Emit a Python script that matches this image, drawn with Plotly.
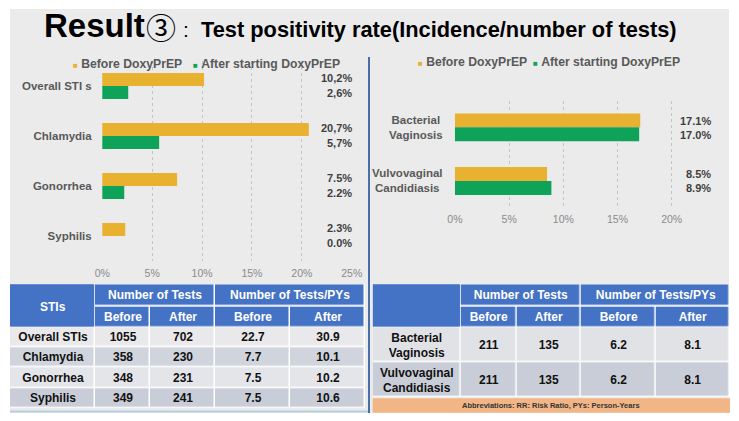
import plotly.graph_objects as go

W, H = 739, 421

# ---------------- data ----------------
series_names = ["Before DoxyPrEP", "After starting DoxyPrEP"]

sti_categories = ["Overall STI s", "Chlamydia", "Gonorrhea", "Syphilis"]
sti_before = [10.2, 20.7, 7.5, 2.3]
sti_after = [2.6, 5.7, 2.2, 0.0]
sti_decimal_sep = [",", ",", ".", "."]
sti_xticks = [0, 5, 10, 15, 20, 25]

vag_categories = ["Bacterial<br>Vaginosis", "Vulvovaginal<br>Candidiasis"]
vag_before = [17.1, 8.5]
vag_after = [17.0, 8.9]
vag_xticks = [0, 5, 10, 15, 20]

sti_table_rows = ["Overall STIs", "Chlamydia", "Gonorrhea", "Syphilis"]
sti_tests_before = [1055, 358, 348, 349]
sti_tests_after = [702, 230, 231, 241]
sti_py_before = [22.7, 7.7, 7.5, 7.5]
sti_py_after = [30.9, 10.1, 10.2, 10.6]

vag_table_rows = ["Bacterial<br>Vaginosis", "Vulvovaginal<br>Candidiasis"]
vag_tests_before = [211, 211]
vag_tests_after = [135, 135]
vag_py_before = [6.2, 6.2]
vag_py_after = [8.1, 8.1]

sub_headers = ["Before", "After", "Before", "After"]
top_headers = ["Number of Tests", "Number of Tests/PYs"]
first_col_header = "STIs"
footnote = "Abbreviations: RR: Risk Ratio, PYs: Person-Years"

# ---------------- style ----------------
FONT = "Liberation Sans, Arial, sans-serif"
ORANGE = "#E8B130"
GREEN = "#0FA35A"
BLUE = "#4472C4"
BG = "#EBEBEB"
CAT_COL = "#595959"
VAL_COL = "#3F3F3F"
TICK_COL = "#8A8A8A"


def fx(px):
    return px / W


def fy(py):
    return 1 - py / H


def b(s):
    return f"<b>{s}</b>"


def cumsum(vals):
    out = [0]
    for v in vals:
        out.append(out[-1] + v)
    return out


def discrete_scale(colors):
    k = len(colors)
    sc = []
    for i, c in enumerate(colors):
        sc += [[i / k, c], [(i + 1) / k, c]]
    return sc


fig = go.Figure()

# ---------------- bars ----------------
fig.add_trace(go.Bar(y=sti_categories, x=sti_before, orientation="h", name=series_names[0],
                     marker=dict(color=ORANGE, line=dict(width=0)), xaxis="x", yaxis="y", showlegend=False))
fig.add_trace(go.Bar(y=sti_categories, x=sti_after, orientation="h", name=series_names[1],
                     marker=dict(color=GREEN, line=dict(width=0)), xaxis="x", yaxis="y", showlegend=False))
fig.add_trace(go.Bar(y=vag_categories, x=vag_before, orientation="h", name=series_names[0],
                     marker=dict(color=ORANGE, line=dict(width=0)), xaxis="x2", yaxis="y2", showlegend=False))
fig.add_trace(go.Bar(y=vag_categories, x=vag_after, orientation="h", name=series_names[1],
                     marker=dict(color=GREEN, line=dict(width=0)), xaxis="x2", yaxis="y2", showlegend=False))

# ---------------- tables (heatmap cells) ----------------
sti_fills = ["#E9E9EB", "#D0D4DD", "#E4E5E9", "#C9CDD8"]
vag_fills = ["#E1E2E6", "#C9CDD7"]
GAP = 1.5


def add_table(xa, ya, widths, h_top, h_sub, h_row, rows, cols, fills):
    xe = cumsum(widths)
    xe_top = [xe[0], xe[1], xe[3], xe[5]]
    common = dict(xaxis=xa, yaxis=ya, xgap=GAP, ygap=GAP, showscale=False, hoverinfo="skip",
                  texttemplate="<b>%{text}</b>")
    # top header (group headers)
    fig.add_trace(go.Heatmap(x=xe_top, y=[0, h_top], z=[[0, 0, 0]], text=[[""] + top_headers],
                             colorscale=[[0, BLUE], [1, BLUE]], zmin=0, zmax=1,
                             textfont=dict(family=FONT, size=12, color="white"), **common))
    # sub header
    fig.add_trace(go.Heatmap(x=xe, y=[h_top, h_top + h_sub], z=[[0] * 5], text=[[""] + sub_headers],
                             colorscale=[[0, BLUE], [1, BLUE]], zmin=0, zmax=1,
                             textfont=dict(family=FONT, size=12, color="white"), **common))
    # body
    n = len(rows)
    ye = [h_top + h_sub + i * h_row for i in range(n + 1)]
    z = [[i] * 5 for i in range(n)]
    text = [[rows[i]] + [str(c[i]) for c in cols] for i in range(n)]
    fig.add_trace(go.Heatmap(x=xe, y=ye, z=z, text=text, colorscale=discrete_scale(fills),
                             zmin=-0.5, zmax=n - 0.5,
                             textfont=dict(family=FONT, size=12, color="#111111"), **common))
    return xe[-1], ye[-1]


L_W = [85, 55, 65, 75, 75]
R_W = [88, 56, 64.3, 75, 74]
l_w, l_h = add_table("x3", "y3", L_W, 22.4, 20.6, 20.2, sti_table_rows,
                     [sti_tests_before, sti_tests_after,
                      [f"{v:.1f}" for v in sti_py_before], [f"{v:.1f}" for v in sti_py_after]], sti_fills)
r_w, r_h = add_table("x4", "y4", R_W, 22.4, 20.6, 35, vag_table_rows,
                     [vag_tests_before, vag_tests_after,
                      [f"{v:.1f}" for v in vag_py_before], [f"{v:.1f}" for v in vag_py_after]], vag_fills)

# ---------------- annotations ----------------
ann = []
# title
ann.append(dict(text="<b>Result</b>", x=fx(42), y=fy(26), xanchor="left", yanchor="middle",
                font=dict(family=FONT, size=33, color="#000")))
ann.append(dict(text="③", x=fx(161), y=fy(26), xanchor="center", yanchor="middle",
                font=dict(family="Noto Sans CJK JP, DejaVu Sans", size=30, color="#000")))
ann.append(dict(text=":", x=fx(186), y=fy(29), xanchor="center", yanchor="middle",
                font=dict(family=FONT, size=21, color="#000")))
ann.append(dict(text="<b>Test positivity rate(Incidence/number of tests)</b>", x=fx(199), y=fy(29),
                xanchor="left", yanchor="middle", font=dict(family=FONT, size=21.8, color="#000")))


def legend_item(xpx, ypx, color, name):
    ann.append(dict(text=f"<span style='font-size:8px;color:{color}'>■</span> <b>{name}</b>",
                    x=fx(xpx), y=fy(ypx), xanchor="left", yanchor="middle",
                    font=dict(family=FONT, size=12.2, color=CAT_COL)))


legend_item(71, 64, ORANGE, series_names[0])
legend_item(191, 64, GREEN, series_names[1])
legend_item(416, 62, ORANGE, series_names[0])
legend_item(531, 62, GREEN, series_names[1])

# value labels, left
for cat, vb, va, sep in zip(sti_categories, sti_before, sti_after, sti_decimal_sep):
    ann.append(dict(text=b(f"{vb:.1f}".replace(".", sep) + "%"), x=fx(354), y=cat, yref="y",
                    xanchor="right", yanchor="middle", yshift=8, font=dict(family=FONT, size=11, color=VAL_COL)))
    ann.append(dict(text=b(f"{va:.1f}".replace(".", sep) + "%"), x=fx(354), y=cat, yref="y",
                    xanchor="right", yanchor="middle", yshift=-7, font=dict(family=FONT, size=11, color=VAL_COL)))
# value labels, right + category labels
for cat, vb, va in zip(vag_categories, vag_before, vag_after):
    ann.append(dict(text=b(f"{vb:.1f}%"), x=fx(713), y=cat, yref="y2",
                    xanchor="right", yanchor="middle", yshift=6.5, font=dict(family=FONT, size=11, color=VAL_COL)))
    ann.append(dict(text=b(f"{va:.1f}%"), x=fx(713), y=cat, yref="y2",
                    xanchor="right", yanchor="middle", yshift=-7.5, font=dict(family=FONT, size=11, color=VAL_COL)))
    ann.append(dict(text=b(cat), x=fx(445), y=cat, yref="y2", xanchor="right",
                    yanchor="middle", align="center", font=dict(family=FONT, size=11.5, color=CAT_COL)))

# merged header label & footnote
ann.append(dict(text=b(first_col_header), x=L_W[0] / 2, xref="x3", y=22.4, yref="y3",
                xanchor="center", yanchor="middle", font=dict(family=FONT, size=12, color="white")))
ann.append(dict(text=b(footnote), x=fx(551), y=fy(405.5), xanchor="center", yanchor="middle",
                font=dict(family=FONT, size=7.5, color="#333333")))
for a in ann:
    a.setdefault("xref", "paper")
    a.setdefault("yref", "paper")
    a["showarrow"] = False

# ---------------- shapes ----------------
shapes = [
    dict(type="rect", xref="paper", yref="paper", x0=fx(10), x1=fx(729), y0=fy(413), y1=fy(9),
         fillcolor=BG, line=dict(width=0), layer="below"),
    # white backing for table cell borders
    dict(type="rect", xref="x3", yref="y3", x0=0, x1=l_w, y0=0, y1=l_h,
         fillcolor="white", line=dict(width=0), layer="below"),
    dict(type="rect", xref="x4", yref="y4", x0=0, x1=r_w, y0=0, y1=r_h,
         fillcolor="white", line=dict(width=0), layer="below"),
    # merged first-column header cells
    dict(type="rect", xref="x3", yref="y3", x0=0, x1=L_W[0] - GAP / 2, y0=0, y1=22.4 + 20.6 - GAP / 2,
         fillcolor=BLUE, line=dict(width=0), layer="above"),
    dict(type="rect", xref="x4", yref="y4", x0=0, x1=R_W[0] - GAP / 2, y0=0, y1=22.4 + 20.6 - GAP / 2,
         fillcolor=BLUE, line=dict(width=0), layer="above"),
    # divider and panel border
    dict(type="line", xref="paper", yref="paper", x0=fx(369), x1=fx(369), y0=fy(413), y1=fy(57),
         line=dict(color="#4A6FA8", width=2)),
    dict(type="line", xref="paper", yref="paper", x0=fx(10), x1=fx(368), y0=fy(411.5), y1=fy(411.5),
         line=dict(color="#B5CFE3", width=2)),
    # footnote band
    dict(type="rect", xref="paper", yref="paper", x0=fx(372.7), x1=fx(730), y0=fy(412.7), y1=fy(398.3),
         fillcolor="#F2B586", line=dict(width=0)),
]

axis_common = dict(showgrid=True, gridcolor="#C4C4C4", griddash="dot", gridwidth=1, zeroline=False,
                   showline=False, ticks="", tickfont=dict(family=FONT, size=10.5, color=TICK_COL),
                   fixedrange=True, automargin=False)
hidden = dict(visible=False, fixedrange=True, automargin=False)

fig.update_layout(
    width=W, height=H, margin=dict(l=0, r=0, t=0, b=0, pad=0, autoexpand=False), autosize=False,
    paper_bgcolor="white", plot_bgcolor="rgba(0,0,0,0)",
    barmode="group", bargap=0.48, bargroupgap=0,
    showlegend=False,
    xaxis=dict(domain=[fx(101.7), fx(351.7)], range=[-0.06, 25], anchor="y",
               tickvals=sti_xticks, ticktext=[f"{v}%" for v in sti_xticks], ticklabelstandoff=4, **axis_common),
    yaxis=dict(domain=[fy(261), fy(61)], anchor="x", autorange="reversed", showgrid=False, zeroline=False,
               showline=False, ticks="", ticklabelstandoff=9, automargin=False,
               tickfont=dict(family=FONT, size=11.5, color=CAT_COL, weight="bold"), fixedrange=True),
    xaxis2=dict(domain=[fx(454.3), fx(677.1)], range=[-0.06, 20.5], anchor="y2",
                tickvals=vag_xticks, ticktext=[f"{v}%" for v in vag_xticks], ticklabelstandoff=4, **axis_common),
    yaxis2=dict(domain=[fy(207.8), fy(100.5)], anchor="x2", autorange="reversed", showgrid=False,
                zeroline=False, showline=False, showticklabels=False, fixedrange=True, automargin=False),
    xaxis3=dict(domain=[fx(10), fx(10 + l_w)], range=[0, l_w], anchor="y3", **hidden),
    yaxis3=dict(domain=[fy(284.3 + l_h), fy(284.3)], range=[l_h, 0], anchor="x3", **hidden),
    xaxis4=dict(domain=[fx(372.7), fx(372.7 + r_w)], range=[0, r_w], anchor="y4", **hidden),
    yaxis4=dict(domain=[fy(284.3 + r_h), fy(284.3)], range=[r_h, 0], anchor="x4", **hidden),
    annotations=ann,
    shapes=shapes,
)

fig.write_html("out.html", config={"responsive": False, "displayModeBar": False},
               post_script="document.body.style.margin='0';document.documentElement.style.overflow='hidden';")
